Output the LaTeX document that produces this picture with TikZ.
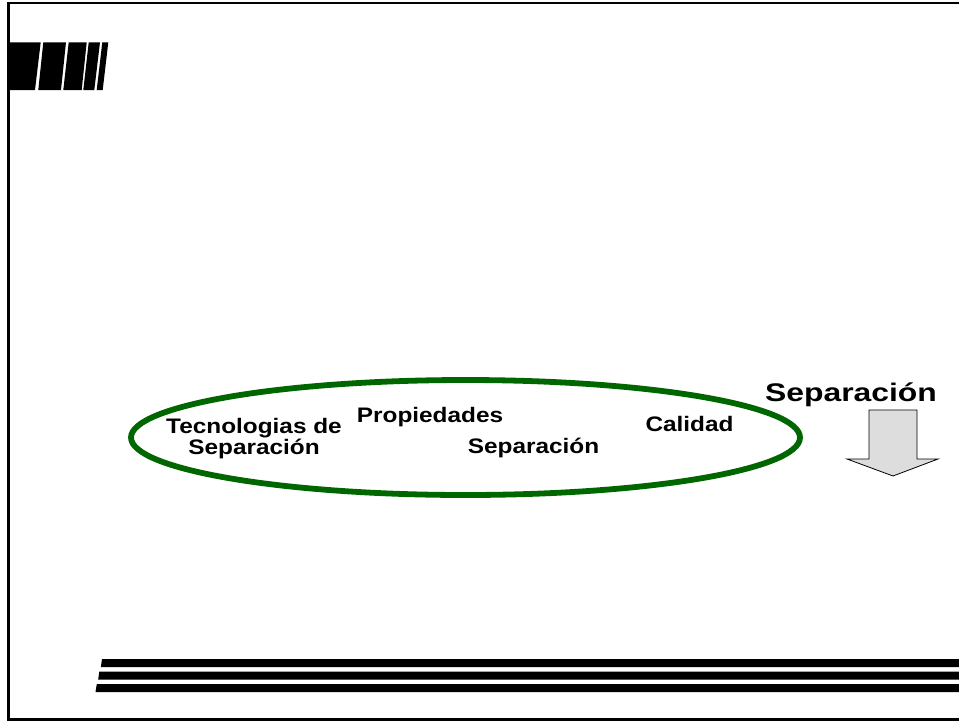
\documentclass[tikz,border=0pt]{standalone}
\usepackage{fontspec}
\setmainfont{Liberation Sans}
\usepackage{graphicx}
\definecolor{ringgreen}{RGB}{0,102,0}
\definecolor{arrowgray}{RGB}{221,221,221}
\newcommand\widetext[2]{\scalebox{#1}[1]{#2}}
\begin{document}
\begin{tikzpicture}[x=1pt,y=-1pt,
  label/.style={inner sep=0pt,anchor=base,font=\bfseries\fontsize{21}{19}\selectfont},
  biglabel/.style={inner sep=0pt,anchor=base,font=\bfseries\fontsize{25.5}{26}\selectfont},
  stripe/.style={fill=black,draw=none}]
\useasboundingbox (0,0) rectangle (959,721);
\fill[white] (0,0) rectangle (959,721);

% slide frame, open on the right
\draw[line width=2.5pt] (959,3) -- (8.7,3) -- (8.7,719.5) -- (959,719.5);

% striped block in the upper left corner
\fill[stripe] (8.7,42.3) -- (40.7,42.3) -- (35,90) -- (8.7,90) -- cycle;
\fill[stripe] (43.3,42.3) -- (66,42.3) -- (61,90) -- (38.3,90) -- cycle;
\fill[stripe] (68.7,42.3) -- (86.7,42.3) -- (81.7,90) -- (63.3,90) -- cycle;
\fill[stripe] (88.7,42.3) -- (100,42.3) -- (94.3,90) -- (83.3,90) -- cycle;
\fill[stripe] (102.3,42.3) -- (108.3,42.3) -- (102.7,90) -- (96.7,90) -- cycle;

% three bars along the bottom
\fill[stripe] (102,659) -- (959,659) -- (959,667) -- (100.9,667) -- cycle;
\fill[stripe] (99.3,671.5) -- (959,671.5) -- (959,679.5) -- (98.2,679.5) -- cycle;
\fill[stripe] (96.8,684) -- (959,684) -- (959,692) -- (95.5,692) -- cycle;

% green ring
\draw[ringgreen,line width=5.8pt] (465.5,437.5) ellipse [x radius=334.5, y radius=57.5];

% labels inside the ring (base of a two-line node is its last line)
\node[label,align=center] (tec) at (254,454)
  {\widetext{1.16}{Tecnologias de}\\\widetext{1.16}{Separación}};
\node[label] (prop) at (430,422) {\widetext{1.16}{Propiedades}};
\node[label] (sepmid) at (533.5,453) {\widetext{1.16}{Separación}};
\node[label] (cal) at (689.5,431) {\widetext{1.16}{Calidad}};

% heading and downward block arrow
\node[biglabel] (sep) at (851,401.7) {\widetext{1.25}{Separación}};
\draw[fill=arrowgray,line width=0.8pt,line join=miter]
  (869,410) -- (917,410) -- (917,459) -- (938,459) -- (893,476)
  -- (847,459) -- (869,459) -- cycle;
\end{tikzpicture}
\end{document}
